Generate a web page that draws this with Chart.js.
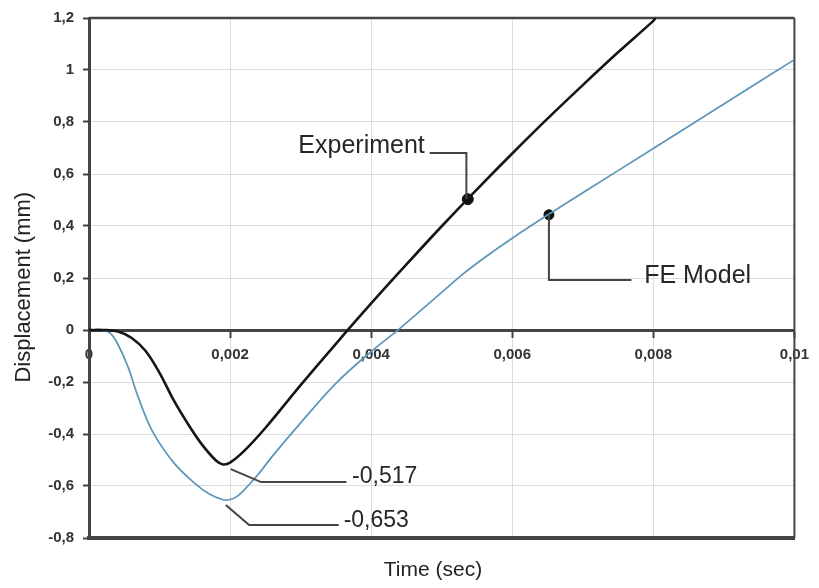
<!DOCTYPE html>
<html>
<head>
<meta charset="utf-8">
<script src="https://cdn.jsdelivr.net/npm/chart.js@4.4.0/dist/chart.umd.min.js"></script>
<style>
  html, body { margin: 0; padding: 0; background: #fff; }
  #wrap { width: 819px; height: 588px; }
</style>
</head>
<body>
<div id="wrap"><canvas id="c" width="819" height="588"></canvas></div>
<script>
// ---- data ----
const expTime = [0, 0.0002, 0.0004, 0.0006, 0.0008, 0.001, 0.0012, 0.0014, 0.0016, 0.0018, 0.0019, 0.002, 0.0022, 0.0025, 0.003, 0.0035, 0.004, 0.0045, 0.005, 0.0055, 0.006, 0.0065, 0.007, 0.0075, 0.008, 0.00803];
const expDisp = [0, 0, -0.005, -0.03, -0.08, -0.165, -0.27, -0.36, -0.44, -0.502, -0.517, -0.51, -0.465, -0.377, -0.212, -0.053, 0.102, 0.252, 0.399, 0.541, 0.679, 0.813, 0.942, 1.068, 1.189, 1.2];

const feTime = [0, 0.0002, 0.0003, 0.0004, 0.00055, 0.0007, 0.0009, 0.0012, 0.0015, 0.0017, 0.0019, 0.002, 0.0021, 0.0022, 0.0024, 0.0026, 0.003, 0.0035, 0.004, 0.0044, 0.005, 0.0053, 0.0056, 0.006, 0.0065, 0.007, 0.008, 0.009, 0.01];
const feDisp = [0, -0.002, -0.012, -0.05, -0.14, -0.26, -0.39, -0.51, -0.59, -0.63, -0.653, -0.652, -0.64, -0.615, -0.555, -0.485, -0.357, -0.205, -0.083, 0.004, 0.145, 0.215, 0.277, 0.353, 0.442, 0.528, 0.698, 0.869, 1.04];

const expMarker = [{ x: 0.00537, y: 0.503 }];
const feMarker = [{ x: 0.00652, y: 0.443 }];

const xTicks = [0, 0.002, 0.004, 0.006, 0.008, 0.01];
const xTickLabels = ['0', '0,002', '0,004', '0,006', '0,008', '0,01'];
const yTicks = [-0.8, -0.6, -0.4, -0.2, 0, 0.2, 0.4, 0.6, 0.8, 1, 1.2];
const yTickLabels = ['-0,8', '-0,6', '-0,4', '-0,2', '0', '0,2', '0,4', '0,6', '0,8', '1', '1,2'];

// callouts (anchored in data coordinates)
const callouts = [
  { text: 'Experiment', path: [[0.00535, 0.503], [0.00535, 0.681], [0.00483, 0.681]], at: [0.00476, 0.681], align: 'right', size: 25 },
  { text: 'FE Model', path: [[0.00652, 0.443], [0.00652, 0.192], [0.00769, 0.192]], at: [0.00787, 0.181], align: 'left', size: 25 },
  { text: '-0,517', path: [[0.00201, -0.535], [0.00244, -0.585], [0.00365, -0.585]], at: [0.00373, -0.588], align: 'left', size: 23 },
  { text: '-0,653', path: [[0.00194, -0.673], [0.00227, -0.75], [0.00354, -0.75]], at: [0.00361, -0.758], align: 'left', size: 23 }
];

const FONT = "'Liberation Sans', Arial, sans-serif";
const AXIS_DARK = '#444444';
const GRID = '#dcdcdc';

const framePlugin = {
  id: 'frame',
  beforeDatasetsDraw(chart) {
    const { ctx, chartArea: a } = chart;
    ctx.save();
    ctx.strokeStyle = AXIS_DARK;
    ctx.lineWidth = 2.5;
    ctx.beginPath();
    ctx.moveTo(a.left, a.top);
    ctx.lineTo(a.right, a.top);
    ctx.stroke();
    ctx.lineWidth = 2;
    ctx.beginPath();
    ctx.moveTo(a.right, a.top);
    ctx.lineTo(a.right, a.bottom);
    ctx.stroke();
    ctx.restore();
  }
};

const calloutPlugin = {
  id: 'callouts',
  afterDatasetsDraw(chart) {
    const { ctx } = chart;
    const xs = chart.scales.x, ys = chart.scales.y;
    ctx.save();
    callouts.forEach(c => {
      ctx.strokeStyle = AXIS_DARK;
      ctx.lineWidth = 2;
      ctx.beginPath();
      c.path.forEach((p, i) => {
        const px = xs.getPixelForValue(p[0]), py = ys.getPixelForValue(p[1]);
        if (i === 0) ctx.moveTo(px, py); else ctx.lineTo(px, py);
      });
      ctx.stroke();
      ctx.fillStyle = '#262626';
      ctx.font = c.size + 'px ' + FONT;
      ctx.textAlign = c.align;
      ctx.textBaseline = 'alphabetic';
      ctx.fillText(c.text, xs.getPixelForValue(c.at[0]), ys.getPixelForValue(c.at[1]));
    });
    ctx.restore();
  }
};

new Chart(document.getElementById('c'), {
  type: 'line',
  data: {
    datasets: [
      {
        label: 'Experiment',
        data: expTime.map((t, i) => ({ x: t, y: expDisp[i] })),
        borderColor: '#161616',
        borderWidth: 2.6,
        pointRadius: 0,
        tension: 0.35,
        fill: false
      },
      {
        label: 'FE Model',
        data: feTime.map((t, i) => ({ x: t, y: feDisp[i] })),
        borderColor: '#5b95ba',
        borderWidth: 1.7,
        pointRadius: 0,
        tension: 0.35,
        fill: false
      },
      {
        label: 'expMarker',
        data: expMarker,
        showLine: false,
        pointRadius: 5.5,
        pointBackgroundColor: '#111',
        pointBorderColor: '#111'
      },
      {
        label: 'feMarker',
        data: feMarker,
        showLine: false,
        pointRadius: 5,
        pointBackgroundColor: '#111',
        pointBorderColor: '#111'
      }
    ]
  },
  options: {
    responsive: false,
    animation: false,
    devicePixelRatio: 1,
    layout: { padding: { top: 18, right: 20, left: 0, bottom: 0 } },
    plugins: { legend: { display: false }, tooltip: { enabled: false } },
    scales: {
      x: {
        type: 'linear',
        position: 'bottom',
        min: 0, max: 0.01,
        afterBuildTicks: s => { s.ticks = xTicks.map(v => ({ value: v })); },
        afterFit: s => { s.height = 50; },
        ticks: { display: false },
        grid: { color: GRID, lineWidth: 1, drawTicks: false },
        border: { display: true, color: AXIS_DARK, width: 4 },
        title: {
          display: true,
          text: 'Time (sec)   ',
          color: '#222',
          font: { family: FONT, size: 21 },
          padding: { top: 0, bottom: 5 }
        }
      },
      x2: {
        type: 'linear',
        position: { y: 0 },
        min: 0, max: 0.01,
        afterBuildTicks: s => { s.ticks = xTicks.map(v => ({ value: v })); },
        ticks: {
          autoSkip: false,
          maxRotation: 0,
          padding: 10,
          color: '#333',
          font: { family: FONT, size: 15, weight: 'bold' },
          callback: (v, i) => xTickLabels[i]
        },
        grid: { drawOnChartArea: false, drawTicks: true, tickLength: 6, tickColor: AXIS_DARK, tickWidth: 2 },
        border: { display: true, color: AXIS_DARK, width: 3 }
      },
      y: {
        type: 'linear',
        position: 'left',
        min: -0.8, max: 1.2,
        afterBuildTicks: s => { s.ticks = yTicks.map(v => ({ value: v })); },
        afterFit: s => { s.width = 89; },
        ticks: {
          autoSkip: false,
          padding: 9,
          color: '#333',
          font: { family: FONT, size: 15, weight: 'bold' },
          callback: (v, i) => yTickLabels[i]
        },
        grid: { color: GRID, lineWidth: 1, drawTicks: true, tickLength: 6, tickColor: AXIS_DARK, tickWidth: 2 },
        border: { display: true, color: AXIS_DARK, width: 3 },
        title: {
          display: true,
          text: 'Displacement (mm)   ',
          color: '#222',
          font: { family: FONT, size: 22 },
          padding: { top: 11, bottom: 0 }
        }
      }
    }
  },
  plugins: [framePlugin, calloutPlugin]
});
</script>
</body>
</html>
